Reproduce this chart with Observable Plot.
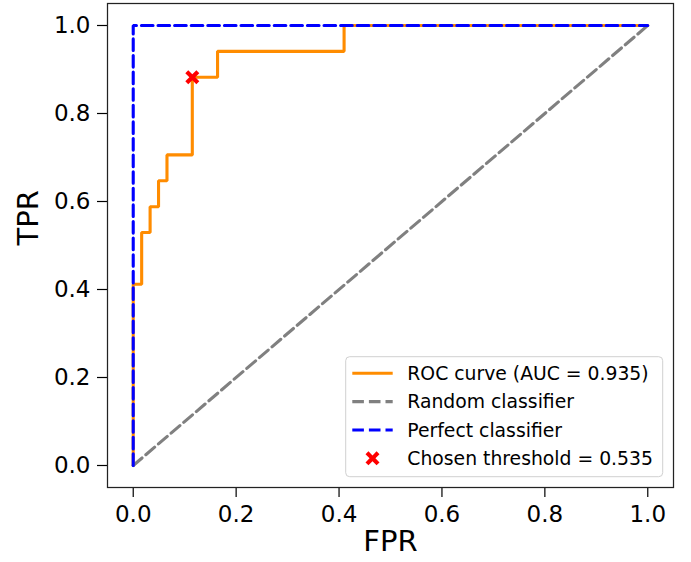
<!DOCTYPE html>
<html>
<head>
<meta charset="utf-8">
<script src="https://cdn.jsdelivr.net/npm/d3@7"></script>
<script src="https://cdn.jsdelivr.net/npm/@observablehq/plot@0.6"></script>
<style>
  body { margin: 0; background: #fff; }
  #chart svg { display: block; }
</style>
</head>
<body>
<div id="chart"></div>
<script>
// ---- data ----
const rocFpr = [0, 0, 0.0164, 0.0164, 0.0328, 0.0328, 0.0492, 0.0492, 0.0656, 0.0656, 0.1148, 0.1148, 0.1639, 0.1639, 0.4098, 0.4098, 1];
const rocTpr = [0, 0.4118, 0.4118, 0.5294, 0.5294, 0.5882, 0.5882, 0.6471, 0.6471, 0.7059, 0.7059, 0.8824, 0.8824, 0.9412, 0.9412, 1, 1];
const randomFpr = [0, 1];
const randomTpr = [0, 1];
const perfectFpr = [0, 0, 1];
const perfectTpr = [0, 1, 1];
const chosenFpr = [0.1148];
const chosenTpr = [0.8824];
const xTicks = [0, 0.2, 0.4, 0.6, 0.8, 1.0];
const yTicks = [0, 0.2, 0.4, 0.6, 0.8, 1.0];
const legendLabels = ["ROC curve (AUC = 0.935)", "Random classifier", "Perfect classifier", "Chosen threshold = 0.535"];
const xLabel = "FPR";
const yLabel = "TPR";

const toPts = (xs, ys) => xs.map((x, i) => ({x, y: ys[i]}));
const rocData = toPts(rocFpr, rocTpr);
const randomData = toPts(randomFpr, randomTpr);
const perfectData = toPts(perfectFpr, perfectTpr);
const chosenData = toPts(chosenFpr, chosenTpr);

const ORANGE = "#ff8c00", GRAY = "#808080", BLUE = "#0000ff", RED = "#ff0000";
const DASH = "11.6,5";
const LW = 3.1;

// filled "X" marker (matplotlib style)
function xPath(context, a) {
  const b = a * 0.42;
  const pts = [[0,-b],[a-b,-a],[a,-a+b],[b,0],[a,a-b],[a-b,a],[0,b],[-a+b,a],[-a,a-b],[-b,0],[-a,-a+b],[-a+b,-a]];
  context.moveTo(pts[0][0], pts[0][1]);
  for (let i = 1; i < pts.length; i++) context.lineTo(pts[i][0], pts[i][1]);
  context.closePath();
}
const symbolX = { draw(context, size) { xPath(context, Math.sqrt(size / Math.PI)); } };

const fmt = d3.format(".1f");

const chart = Plot.plot({
  width: 691,
  height: 562,
  marginLeft: 107,
  marginRight: 18,
  marginTop: 3,
  marginBottom: 75,
  style: { fontFamily: "DejaVu Sans", background: "white", color: "#000" },
  x: { domain: [-0.05, 1.05] },
  y: { domain: [-0.05, 1.05] },
  marks: [
    Plot.axisX({ ticks: xTicks, tickSize: 10, tickPadding: 8, fontSize: 23, tickFormat: fmt, label: null, strokeWidth: 1.2 }),
    Plot.axisY({ ticks: yTicks, tickSize: 10, tickPadding: 7, fontSize: 23, tickFormat: fmt, label: null, strokeWidth: 1.2 }),
    Plot.line(rocData, { x: "x", y: "y", stroke: ORANGE, strokeWidth: LW, curve: "linear", strokeLinejoin: "miter" }),
    Plot.line(randomData, { x: "x", y: "y", stroke: GRAY, strokeWidth: LW, strokeDasharray: DASH }),
    Plot.line(perfectData, { x: "x", y: "y", stroke: BLUE, strokeWidth: LW, strokeDasharray: DASH, strokeLinejoin: "miter" }),
    Plot.dot(chosenData, { x: "x", y: "y", symbol: symbolX, r: 7, fill: RED, stroke: "none" }),
    Plot.frame({ stroke: "#222", strokeWidth: 1.25 }),
    Plot.text([xLabel], { frameAnchor: "bottom", dy: 63, fontSize: 29, fill: "#000" }),
    Plot.text([yLabel], { frameAnchor: "left", dx: -79, rotate: -90, fontSize: 29, fill: "#000" })
  ]
});

document.getElementById("chart").appendChild(chart);

// ---- in-plot legend (lower right) ----
const svg = d3.select(chart);
const lg = svg.append("g").attr("font-family", "DejaVu Sans").attr("font-size", 18.8).attr("text-anchor", "start");
const box = { x: 345.7, y: 356.7, w: 317, h: 120 };
lg.append("rect")
  .attr("x", box.x).attr("y", box.y).attr("width", box.w).attr("height", box.h)
  .attr("rx", 4).attr("fill", "white").attr("fill-opacity", 0.8)
  .attr("stroke", "#d0d0d0").attr("stroke-width", 1);
const rowY0 = 373.3, rowStep = 28.35;
const handles = [
  { type: "line", color: ORANGE, dash: null },
  { type: "line", color: GRAY, dash: DASH },
  { type: "line", color: BLUE, dash: DASH },
  { type: "marker", color: RED }
];
legendLabels.forEach((label, i) => {
  const y = rowY0 + i * rowStep;
  const h = handles[i];
  if (h.type === "line") {
    lg.append("line").attr("x1", 352.3).attr("x2", 392.7).attr("y1", y).attr("y2", y)
      .attr("stroke", h.color).attr("stroke-width", LW)
      .attr("stroke-dasharray", h.dash);
  } else {
    const p = d3.path();
    xPath(p, 7);
    lg.append("path").attr("d", p.toString()).attr("transform", `translate(372.5,${y})`).attr("fill", h.color);
  }
  lg.append("text").attr("x", 407.3).attr("y", y).attr("dy", "0.35em").attr("text-anchor", "start").attr("fill", "#000").text(label);
});
</script>
</body>
</html>
